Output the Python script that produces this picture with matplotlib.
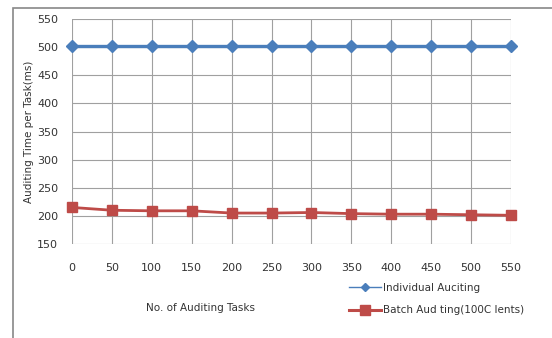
import matplotlib.pyplot as plt
from matplotlib.patches import Rectangle
from matplotlib.lines import Line2D

tasks = [0, 50, 100, 150, 200, 250, 300, 350, 400, 450, 500, 550]
individual = [502, 502, 502, 502, 502, 502, 502, 502, 502, 502, 502, 502]
batch = [215, 210, 209, 209, 205, 205, 206, 204, 203, 203, 202, 201]

blue = '#4a7ebb'
red = '#be4b48'

fig = plt.figure(figsize=(5.52, 3.38), dpi=100)
fig.patches.append(Rectangle((13 / 552, -0.01), 1.0, 1 - 8 / 338 + 0.01,
                             transform=fig.transFigure, fill=False,
                             edgecolor='#888888', linewidth=1.2))
ax = fig.add_axes([72 / 552, 1 - 244 / 338, (511 - 72) / 552, (244 - 19) / 338])

ax.plot(tasks, individual, color=blue, marker='D', markersize=6, linewidth=2.4,
        label='Individual Auciting', clip_on=False)
ax.plot(tasks, batch, color=red, marker='s', markersize=7.5, linewidth=2.0,
        label='Batch Aud ting(100C lents)', clip_on=False)

ax.set_xlim(0, 550)
ax.set_ylim(150, 550)
ax.set_xticks(tasks)
ax.set_yticks(range(150, 551, 50))
ax.grid(True, color='#a0a0a0', linewidth=0.8)
ax.set_axisbelow(True)
for s in ax.spines.values():
    s.set_visible(False)
ax.tick_params(axis='x', length=0, labelsize=8, colors='#333333', pad=14)
ax.tick_params(axis='y', length=0, labelsize=8, colors='#333333', pad=10)
ax.set_ylabel('Auditing Time per Task(ms)', fontsize=7.5, color='#333333', labelpad=2)

fig.text(200 / 552, 1 - 308 / 338, 'No. of Auditing Tasks', fontsize=7.5,
         color='#333333', ha='center', va='center')

h1 = Line2D([], [], color=blue, marker='D', markersize=4, linewidth=1)
h2 = Line2D([], [], color=red, marker='s', markersize=7.5, linewidth=2.2)
fig.legend([h1, h2], ['Individual Auciting', 'Batch Aud ting(100C lents)'],
           loc='center left', bbox_to_anchor=(340 / 552, 1 - 299 / 338),
           frameon=False, fontsize=7.5, handlelength=3, handletextpad=0.2,
           labelspacing=1.2, labelcolor='#333333')

fig.savefig('out.png', dpi=100)
